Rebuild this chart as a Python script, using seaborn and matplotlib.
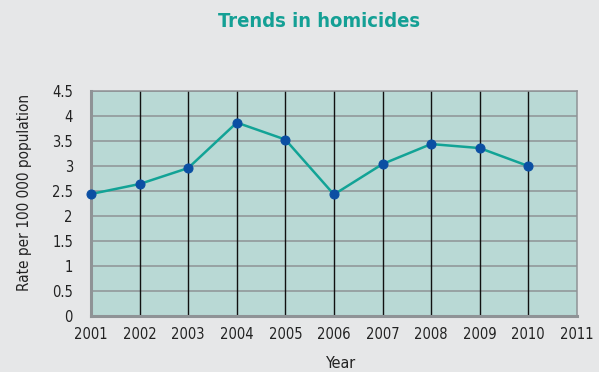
import matplotlib
matplotlib.use("Agg")
import matplotlib.pyplot as plt
import seaborn as sns
import pandas as pd

years = [2001, 2002, 2003, 2004, 2005, 2006, 2007, 2008, 2009, 2010]
rates = [2.44, 2.64, 2.96, 3.87, 3.53, 2.43, 3.04, 3.44, 3.36, 3.00]
xticks = list(range(2001, 2012))
yticks = [0, 0.5, 1, 1.5, 2, 2.5, 3, 3.5, 4, 4.5]
ytick_labels = ["0", "0.5", "1", "1.5", "2", "2.5", "3", "3.5", "4", "4.5"]

sns.set_theme(style="white")
plt.rcParams['font.family'] = ['DejaVu Sans']
plt.rcParams['font.stretch'] = 'condensed'

df = pd.DataFrame({"Year": years, "Rate": rates})

fig = plt.figure(figsize=(5.99, 3.72), dpi=100, facecolor="#e6e7e8")
ax = fig.add_axes([0.152, 0.151, 0.811, 0.604])
ax.set_facecolor("#b9d9d5")

sns.lineplot(data=df, x="Year", y="Rate", ax=ax, color="#12a396", linewidth=1.8,
             marker="o", markersize=6.5, markerfacecolor="#0b4fa3",
             markeredgecolor="#0b4fa3", zorder=5, clip_on=False)

ax.set_xlim(2001, 2011)
ax.set_ylim(0, 4.5)
ax.set_xticks(xticks)
ax.set_xticklabels([str(x) for x in xticks])
ax.set_yticks(yticks)
ax.set_yticklabels(ytick_labels)
ax.tick_params(axis="both", length=0, labelsize=10.5, colors="#222222")
ax.tick_params(axis="x", pad=8)
ax.tick_params(axis="y", pad=13)

ax.grid(axis="y", color="#8f9396", linewidth=1.1)
for x in xticks[1:-1]:
    ax.axvline(x, color="#111111", linewidth=1.0, zorder=2)
ax.set_axisbelow(True)

for s in ["top", "right"]:
    ax.spines[s].set_color("#8f9396")
    ax.spines[s].set_linewidth(1.1)
for s in ["left", "bottom"]:
    ax.spines[s].set_color("#8f9396")
    ax.spines[s].set_linewidth(2.2)

ax.set_xlabel("Year", fontsize=11.5, color="#222222")
ax.xaxis.set_label_coords(0.514, -0.18)
ax.set_ylabel("Rate per 100 000 population", fontsize=11, color="#222222")
ax.yaxis.set_label_coords(-0.122, 0.547)
fig.text(0.533, 0.942, "Trends in homicides", ha="center", va="center",
         fontsize=14.5, fontweight="bold", color="#14a095")

fig.savefig("out.png", dpi=100, facecolor=fig.get_facecolor())
